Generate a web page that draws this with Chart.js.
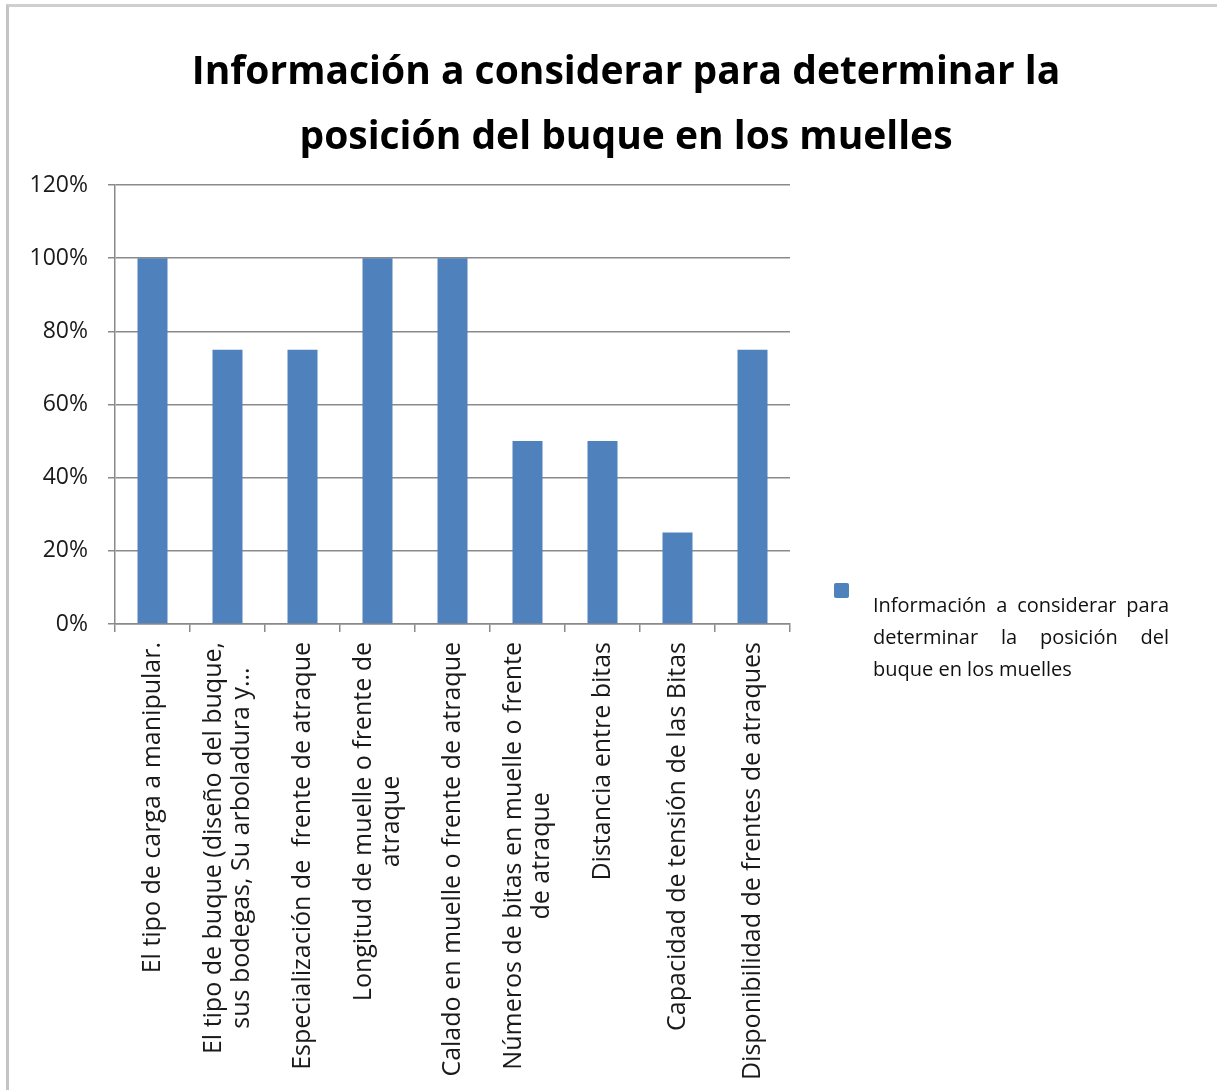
<!DOCTYPE html>
<html>
<head>
<meta charset="utf-8">
<script src="https://cdn.jsdelivr.net/npm/chart.js@4.4.1/dist/chart.umd.min.js"></script>
<style>
  html, body { margin: 0; padding: 0; background: #fff; overflow: hidden; }
  #wrap { position: relative; width: 1217px; height: 1090px; overflow: hidden; }
  #frame { position: absolute; left: 6px; top: 4px; width: 1300px; height: 1200px;
           border-top: 3px solid #cfcfcf; border-left: 3px solid #c4c4c4; }
  #chart { position: absolute; left: 0; top: 0; }
  #legend { position: absolute; left: 834px; top: 583px; font-family: "Open Sans", sans-serif; color: #111; }
  #legend .box { position: absolute; left: 0; top: 0; width: 15px; height: 15px; border-radius: 2px; }
  #legend .txt { position: absolute; left: 39px; top: 6px; width: 296px; font-size: 20px;
                 line-height: 32px; text-align: justify; }
</style>
</head>
<body>
<div id="wrap">
  <div id="frame"></div>
  <canvas id="chart" width="1252" height="1090"></canvas>
  <div id="legend"><span class="box"></span><div class="txt"></div></div>
</div>
<script>
// Chart Data
const titleLines = ['Información a considerar para determinar la', 'posición del buque en los muelles'];
const seriesName = 'Información a considerar para determinar la posición del buque en los muelles';
const categories = [
  ['El tipo de carga a manipular.'],
  ['El tipo de buque (diseño del buque,', 'sus bodegas, Su arboladura y...'],
  ['Especialización de  frente de atraque'],
  ['Longitud de muelle o frente de', 'atraque'],
  ['Calado en muelle o frente de atraque'],
  ['Números de bitas en muelle o frente', 'de atraque'],
  ['Distancia entre bitas'],
  ['Capacidad de tensión de las Bitas'],
  ['Disponibilidad de frentes de atraques']
];
const values = [1, 0.75, 0.75, 1, 1, 0.5, 0.5, 0.25, 0.75];
const yTicks = [0, 0.2, 0.4, 0.6, 0.8, 1, 1.2];

const barColor = '#4F81BD';
const gridColor = '#8a8a8a';
const labelFont = '25px "Open Sans"';

// draws the rotated category labels, lines centred on each tick
const categoryLabels = {
  id: 'categoryLabels',
  afterDraw(chart) {
    const ctx = chart.ctx;
    const xs = chart.scales.x;
    ctx.save();
    ctx.font = labelFont;
    ctx.fillStyle = '#1a1a1a';
    ctx.textAlign = 'center';
    ctx.textBaseline = 'middle';
    const lineH = 28;
    chart.data.labels.forEach((lines, i) => {
      const x = xs.getPixelForTick(i);
      const maxW = Math.max(...lines.map(l => ctx.measureText(l).width));
      ctx.save();
      ctx.translate(x, xs.top + 18);
      ctx.rotate(-Math.PI / 2);
      lines.forEach((l, j) => {
        ctx.fillText(l, -maxW / 2, (j - (lines.length - 1) / 2) * lineH);
      });
      ctx.restore();
    });
    ctx.restore();
  }
};

const chart = new Chart(document.getElementById('chart'), {
  type: 'bar',
  data: {
    labels: categories,
    datasets: [{
      label: seriesName,
      data: values,
      backgroundColor: barColor,
      borderWidth: 0,
      barPercentage: 0.4,
      categoryPercentage: 1
    }]
  },
  options: {
    responsive: false,
    animation: false,
    layout: { padding: 0 },
    plugins: {
      legend: { display: false },
      tooltip: { enabled: false },
      title: {
        display: true,
        text: titleLines,
        color: '#000',
        font: { family: '"Open Sans"', size: 39, weight: 'bold', lineHeight: 1.667 },
        padding: { top: 40, bottom: 15 }
      }
    },
    scales: {
      x: {
        afterFit(scale) { scale.height = 466; },
        grid: { drawOnChartArea: false, tickLength: 8, color: gridColor, lineWidth: 1.5 },
        border: { color: gridColor, width: 1.5 },
        ticks: { display: false }
      },
      y: {
        min: 0,
        max: 1.2,
        afterFit(scale) { scale.width = 115; },
        afterBuildTicks(scale) { scale.ticks = yTicks.map(v => ({ value: v })); },
        grid: { color: gridColor, lineWidth: 1.5, tickLength: 7 },
        border: { color: gridColor, width: 1.5 },
        ticks: {
          padding: 20,
          color: '#1a1a1a',
          font: { family: '"Open Sans"', size: 23 },
          callback: v => Math.round(v * 100) + '%'
        }
      },
      spacer: {
        position: 'right',
        afterFit(scale) { scale.width = 462; },
        grid: { display: false },
        border: { display: false },
        ticks: { display: false }
      }
    }
  },
  plugins: [categoryLabels]
});

// legend built from the dataset
const ds = chart.data.datasets[0];
document.querySelector('#legend .box').style.background = ds.backgroundColor;
document.querySelector('#legend .txt').textContent = ds.label;
</script>
</body>
</html>
